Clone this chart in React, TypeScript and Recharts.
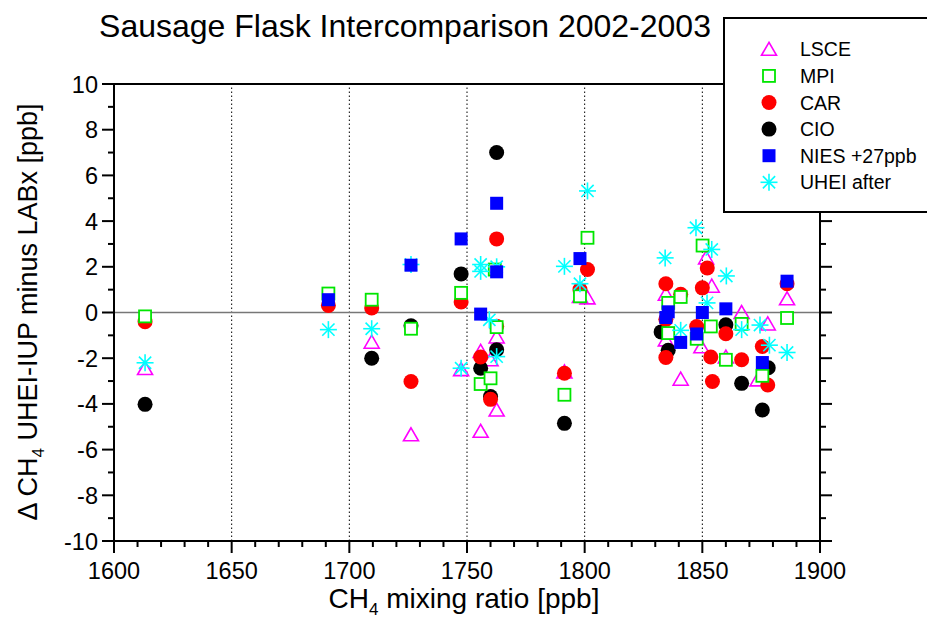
import React from 'react';
import { ScatterChart, Scatter, XAxis, YAxis, ReferenceLine, Legend } from 'recharts';

const FONT = '"Liberation Sans", Arial, Helvetica, sans-serif';

// [CH4 mixing ratio (ppb), difference (ppb)] per lab
const lsce: [number, number][] = [
  [1613.2, -2.45], [1709.5, -1.3], [1726.2, -5.35], [1747.5, -2.5], [1755.8, -1.7], [1755.8, -5.2],
  [1760, -2.07], [1762.6, -1.07], [1762.6, -4.27], [1791.4, -2.6], [1798, 0.7], [1801.2, 0.64],
  [1834.5, 0.8], [1834.5, -1.2], [1840.8, -2.92], [1849.6, -1.5], [1851.6, 2.39], [1854, 1.15],
  [1860, -1.95], [1866.7, 0.0], [1873.5, -2.95], [1877.8, -0.5], [1886, 0.6],
];
const mpi: [number, number][] = [
  [1613.2, -0.17], [1691.1, 0.83], [1709.5, 0.56], [1726.2, -0.71], [1747.5, 0.86], [1755.8, -3.13],
  [1760, -2.88], [1761.8, 1.88], [1762.6, -0.64], [1791.4, -3.6], [1798, 0.71], [1801.2, 3.27],
  [1835.5, 0.42], [1835.5, -0.9], [1840.8, 0.68], [1847.6, -1.15], [1850.1, 2.93], [1853.6, -0.61],
  [1860, -2.07], [1866.7, -0.5], [1875.5, -2.77], [1886, -0.24],
];
const car: [number, number][] = [
  [1613.2, -0.4], [1691.1, 0.31], [1709.5, 0.2], [1726.2, -3.02], [1747.5, 0.46], [1755.8, -1.95],
  [1760, -3.8], [1762.6, 3.22], [1762.6, -0.6], [1791.4, -2.66], [1798, 1.0], [1801.2, 1.88],
  [1834.5, 1.26], [1834.5, -0.3], [1834.5, -1.97], [1840.8, 0.8], [1847.6, -0.61], [1850, 1.08],
  [1852.1, 1.95], [1853.6, -1.95], [1854.3, -3.02], [1860, -0.93], [1866.7, -2.07], [1875.5, -1.49],
  [1877.8, -3.17], [1886, 1.26],
];
const cio: [number, number][] = [
  [1613.2, -4.02], [1709.5, -2.0], [1726.2, -0.58], [1747.5, 1.69], [1755.8, -2.44], [1760, -3.68],
  [1762.6, 7.0], [1762.6, -1.63], [1791.4, -4.85], [1832.5, -0.85], [1835.5, -1.65], [1860, -0.54],
  [1866.7, -3.1], [1875.5, -4.27], [1878, -2.42],
];
const nies: [number, number][] = [
  [1691.1, 0.56], [1726.2, 2.07], [1747.5, 3.22], [1755.8, -0.07], [1762.6, 4.78], [1762.6, 1.78],
  [1798, 2.36], [1835.5, 0.03], [1834.5, -0.22], [1840.8, -1.31], [1847.6, -0.94], [1850, 0.0],
  [1860, 0.16], [1875.5, -2.19], [1886, 1.37],
];
const uhei: [number, number][] = [
  [1613.2, -2.2], [1691.1, -0.75], [1709.5, -0.71], [1726.2, 2.1], [1747.5, -2.44], [1755.8, 2.1],
  [1755.8, 1.8], [1759.5, -0.32], [1762.6, 2.0], [1762.6, -1.93], [1791.4, 2.02], [1798, 1.26],
  [1801.2, 5.32], [1834.2, 2.39], [1840.8, -0.78], [1847.3, 3.71], [1852, 0.42], [1854, 2.76],
  [1860.2, 1.6], [1866.7, -0.75], [1874.5, -0.55], [1878.5, -1.43], [1886, -1.75],
];

const xTicks = [
  1600, 1610, 1620, 1630, 1640, 1650, 1660, 1670, 1680, 1690, 1700, 1710, 1720, 1730, 1740, 1750,
  1760, 1770, 1780, 1790, 1800, 1810, 1820, 1830, 1840, 1850, 1860, 1870, 1880, 1890, 1900,
];
const xLabels = [1600, 1650, 1700, 1750, 1800, 1850, 1900];
const yTicks = [-10, -9, -8, -7, -6, -5, -4, -3, -2, -1, 0, 1, 2, 3, 4, 5, 6, 7, 8, 9, 10];
const yLabels = [-10, -8, -6, -4, -2, 0, 2, 4, 6, 8, 10];
const gridX = [1650, 1700, 1750, 1800, 1850];

const toPoints = (arr: [number, number][]) => arr.map(([x, y]) => ({ x, y }));

// marker shapes
const Triangle = ({ cx, cy }: any) => (
  <polygon
    points={`${cx},${cy - 7} ${cx - 7.5},${cy + 6} ${cx + 7.5},${cy + 6}`}
    fill="none" stroke="#ff00ff" strokeWidth={1.6}
  />
);
const OpenSquare = ({ cx, cy }: any) => (
  <rect x={cx - 6} y={cy - 6} width={12} height={12} fill="#fff" stroke="#00e600" strokeWidth={1.8} />
);
const Dot = (color: string) => ({ cx, cy }: any) => <circle cx={cx} cy={cy} r={7.5} fill={color} />;
const FilledSquare = ({ cx, cy }: any) => (
  <rect x={cx - 6.5} y={cy - 6.5} width={13} height={13} fill="#0000ff" />
);
const Star = ({ cx, cy }: any) => {
  const r = 8.5;
  const d = r * 0.72;
  return (
    <g stroke="#00ffff" strokeWidth={1.6}>
      <line x1={cx} y1={cy - r} x2={cx} y2={cy + r} />
      <line x1={cx - r} y1={cy} x2={cx + r} y2={cy} />
      <line x1={cx - d} y1={cy - d} x2={cx + d} y2={cy + d} />
      <line x1={cx - d} y1={cy + d} x2={cx + d} y2={cy - d} />
    </g>
  );
};

const series = [
  { name: 'LSCE', data: lsce, shape: Triangle },
  { name: 'CIO', data: cio, shape: Dot('#000') },
  { name: 'CAR', data: car, shape: Dot('#ff0000') },
  { name: 'MPI', data: mpi, shape: OpenSquare },
  { name: 'UHEI after', data: uhei, shape: Star },
  { name: 'NIES +27ppb', data: nies, shape: FilledSquare },
];
const legendOrder = [
  { name: 'LSCE', shape: Triangle },
  { name: 'MPI', shape: OpenSquare },
  { name: 'CAR', shape: Dot('#ff0000') },
  { name: 'CIO', shape: Dot('#000') },
  { name: 'NIES +27ppb', shape: FilledSquare },
  { name: 'UHEI after', shape: Star },
];

const TICK_FONT = 23.5;

const BottomTick = ({ x, y, payload }: any) => {
  const major = xLabels.includes(payload.value);
  return (
    <g>
      <line x1={x} x2={x} y1={y} y2={y + (major ? 12 : 6)} stroke="#000" strokeWidth={2} />
      {major && (
        <text x={x} y={y + 38} textAnchor="middle" fontSize={TICK_FONT} fontFamily={FONT} fill="#000">
          {payload.value}
        </text>
      )}
    </g>
  );
};
const TopTick = ({ x, y, payload }: any) => {
  const major = xLabels.includes(payload.value);
  return <line x1={x} x2={x} y1={y} y2={y - (major ? 11 : 6)} stroke="#000" strokeWidth={2} />;
};
const LeftTick = ({ x, y, payload }: any) => {
  const major = yLabels.includes(payload.value);
  return (
    <g>
      <line x1={x} x2={x - (major ? 12 : 6)} y1={y} y2={y} stroke="#000" strokeWidth={2} />
      {major && (
        <text x={x - 16} y={y + 8.5} textAnchor="end" fontSize={TICK_FONT} fontFamily={FONT} fill="#000">
          {payload.value}
        </text>
      )}
    </g>
  );
};
const RightTick = ({ x, y, payload }: any) => {
  const major = yLabels.includes(payload.value);
  return <line x1={x} x2={x + (major ? 12 : 6)} y1={y} y2={y} stroke="#000" strokeWidth={2} />;
};

const LegendBox = () => (
  <svg width={215} height={196} style={{ display: 'block' }}>
    <rect x={1} y={1} width={230} height={194} fill="#fff" stroke="#000" strokeWidth={2} />
    {legendOrder.map((s, i) => {
      const cy = 32.3 + i * 26.6;
      const Shape = s.shape;
      return (
        <g key={s.name}>
          <Shape cx={46} cy={cy} />
          <text x={77} y={cy + 7} fontSize={19.5} fontFamily={FONT} fill="#000">{s.name}</text>
        </g>
      );
    })}
  </svg>
);

const axisLine = { stroke: '#000', strokeWidth: 2 };
const sub = { fontSize: 17, position: 'relative' as const, top: 7 };

export default function App() {
  return (
    <div style={{ position: 'absolute', left: 0, top: 0, width: 927, height: 632, overflow: 'hidden', background: '#fff', fontFamily: FONT }}>
      <div style={{ position: 'absolute', left: 0, top: 10, width: 810, textAlign: 'center', fontSize: 32, lineHeight: 1, color: '#000' }}>
        Sausage Flask Intercomparison 2002-2003
      </div>
      <div style={{ position: 'absolute', left: 0, top: 586, width: 928, textAlign: 'center', fontSize: 28, lineHeight: 0.9, color: '#000' }}>
        CH<span style={sub}>4</span> mixing ratio [ppb]
      </div>
      <div style={{ position: 'absolute', left: 28, top: 312, transform: 'translate(-50%, -50%) rotate(-90deg)', whiteSpace: 'nowrap', fontSize: 27, lineHeight: 1, color: '#000' }}>
        Δ CH<span style={sub}>4</span> UHEI-IUP minus LABx [ppb]
      </div>
      <ScatterChart width={927} height={632} margin={{ top: 64, right: 57, bottom: 51, left: 64 }}>
        <XAxis xAxisId="b" type="number" dataKey="x" domain={[1600, 1900]} ticks={xTicks} interval={0}
          height={40} tickSize={0} tickMargin={0} tickLine={false} tick={<BottomTick />} axisLine={axisLine} allowDataOverflow />
        <XAxis xAxisId="t" orientation="top" type="number" domain={[1600, 1900]} ticks={xTicks} interval={0}
          height={20} tickSize={0} tickMargin={0} tickLine={false} tick={<TopTick />} axisLine={axisLine} allowDataOverflow />
        <YAxis yAxisId="l" type="number" dataKey="y" domain={[-10, 10]} ticks={yTicks} interval={0}
          width={50} tickSize={0} tickMargin={0} tickLine={false} tick={<LeftTick />} axisLine={axisLine} allowDataOverflow />
        <YAxis yAxisId="r" orientation="right" type="number" domain={[-10, 10]} ticks={yTicks} interval={0}
          width={50} tickSize={0} tickMargin={0} tickLine={false} tick={<RightTick />} axisLine={axisLine} allowDataOverflow />
        {gridX.map((g) => (
          <ReferenceLine key={g} xAxisId="b" yAxisId="l" x={g} stroke="#000" strokeWidth={1} strokeDasharray="1.5 2.5" />
        ))}
        <ReferenceLine xAxisId="b" yAxisId="l" y={0} stroke="#777" strokeWidth={1.5} />
        {series.map((s) => (
          <Scatter key={s.name} name={s.name} xAxisId="b" yAxisId="l" data={toPoints(s.data)}
            shape={s.shape} isAnimationActive={false} />
        ))}
        <Legend layout="vertical" align="center" verticalAlign="middle" content={<LegendBox />}
          wrapperStyle={{ left: 723, top: 17, width: 215, height: 196 }} />
      </ScatterChart>
    </div>
  );
}
